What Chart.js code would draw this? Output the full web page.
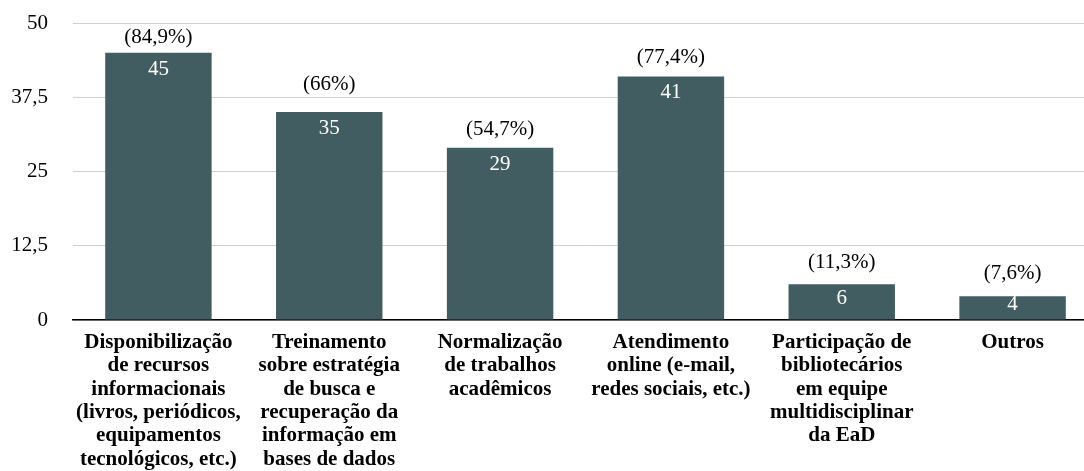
<!DOCTYPE html>
<html>
<head>
<meta charset="utf-8">
<script src="https://cdn.jsdelivr.net/npm/chart.js@4"></script>
<style>
  html, body { margin: 0; padding: 0; background: #fff; overflow: hidden; }
  #wrap { width: 1098px; height: 471px; }
</style>
</head>
<body>
<div id="wrap"><canvas id="chart"></canvas></div>
<script>
const categories = [
  ["Disponibilização", "de recursos", "informacionais", "(livros, periódicos,", "equipamentos", "tecnológicos, etc.)"],
  ["Treinamento", "sobre estratégia", "de busca e", "recuperação da", "informação em", "bases de dados"],
  ["Normalização", "de trabalhos", "acadêmicos"],
  ["Atendimento", "online (e-mail,", "redes sociais, etc.)"],
  ["Participação de", "bibliotecários", "em equipe", "multidisciplinar", "da EaD"],
  ["Outros"]
];
const counts = [45, 35, 29, 41, 6, 4];
const percentLabels = ["(84,9%)", "(66%)", "(54,7%)", "(77,4%)", "(11,3%)", "(7,6%)"];
const yTicks = [0, 12.5, 25, 37.5, 50];

// how far above each bar top its percentage sits (px)
const percentGap = [15, 28, 18, 19, 22, 23];

const FONT = "'Liberation Serif', 'Times New Roman', serif";

// draws the count inside each bar and the percentage above it
const barLabels = {
  id: "barLabels",
  afterDatasetsDraw(chart) {
    const ctx = chart.ctx;
    const meta = chart.getDatasetMeta(0);
    ctx.save();
    ctx.textAlign = "center";
    ctx.textBaseline = "middle";
    meta.data.forEach((bar, i) => {
      const h = bar.base - bar.y;
      ctx.fillStyle = "#ffffff";
      ctx.font = "21px " + FONT;
      ctx.fillText(String(counts[i]), bar.x, bar.y + Math.min(16.5, h / 2 - 3));
      ctx.fillStyle = "#000000";
      ctx.fillText(percentLabels[i], bar.x, bar.y - percentGap[i]);
    });
    ctx.restore();
  }
};

new Chart(document.getElementById("chart"), {
  type: "bar",
  data: {
    labels: categories,
    datasets: [{
      data: counts,
      backgroundColor: "#425d62",
      barPercentage: 0.623,
      categoryPercentage: 1
    }]
  },
  options: {
    responsive: true,
    maintainAspectRatio: false,
    animation: false,
    layout: { padding: { top: 23, bottom: 0, left: 0, right: 0 } },
    plugins: {
      legend: { display: false },
      tooltip: { enabled: false }
    },
    scales: {
      x: {
        afterFit(axis) {
          axis.height = 151;
          axis.paddingLeft = 0;
          axis.paddingRight = 0;
        },
        grid: { display: false, drawTicks: false },
        border: { color: "#000000", width: 1.5 },
        ticks: {
          color: "#000000",
          padding: 11,
          maxRotation: 0,
          autoSkip: false,
          font: { family: FONT, size: 21, weight: "bold", lineHeight: 1.11 }
        }
      },
      y: {
        min: 0,
        max: 50,
        afterBuildTicks(axis) {
          axis.ticks = yTicks.map(v => ({ value: v }));
        },
        afterFit(axis) {
          axis.width = 73;
          axis.paddingTop = 0;
          axis.paddingBottom = 0;
        },
        grid: { color: "#cfcfcf", drawTicks: false },
        border: { display: false },
        ticks: {
          color: "#000000",
          padding: 25,
          font: { family: FONT, size: 21 },
          callback: v => String(v).replace(".", ",")
        }
      }
    }
  },
  plugins: [barLabels]
});
</script>
</body>
</html>
